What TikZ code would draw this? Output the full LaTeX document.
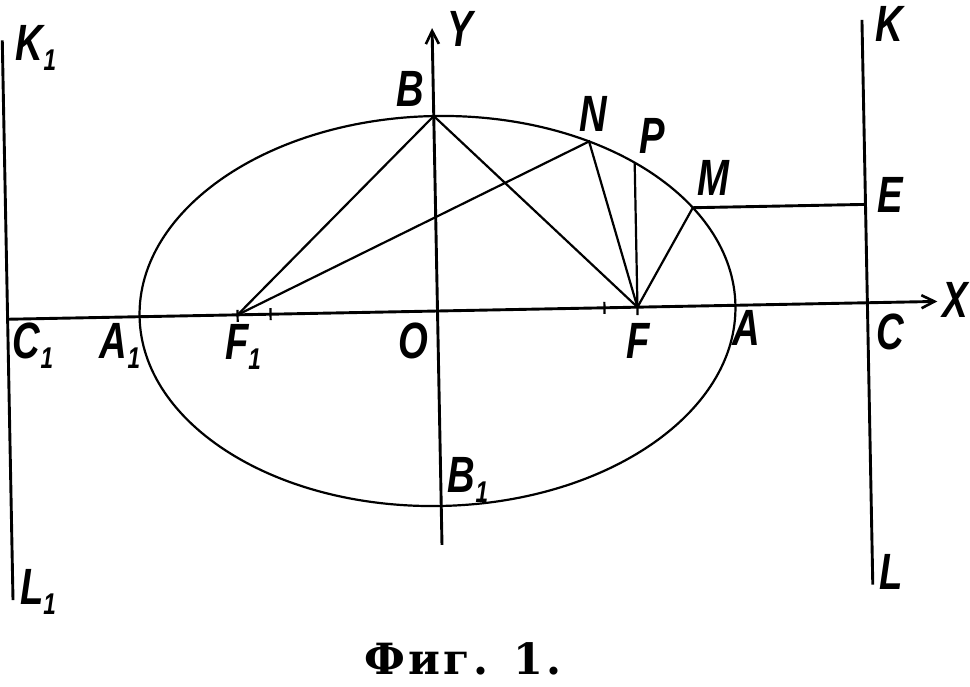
\documentclass[tikz,border=0pt]{standalone}
\usepackage{fontspec}
\usetikzlibrary{arrows.meta}
\newfontfamily\labfont[FakeStretch=0.75]{Liberation Sans}
\newfontfamily\capfont[LetterSpace=8]{DejaVu Serif}
\newcommand\lsub[1]{\raisebox{-0.2em}{\fontsize{30}{30}\selectfont #1}}
\tikzset{
  lab/.style={font={\labfont\bfseries\itshape\fontsize{51}{51}\selectfont}, inner sep=0pt},
  fine/.style={line width=2.2pt},
  axisline/.style={line width=2.9pt},
  tip/.style={-{Straight Barb[length=13pt,width=13pt,line width=2.6pt]}},
}
\begin{document}
\begin{tikzpicture}[x=1pt,y=1pt]
\useasboundingbox (0,0) rectangle (970,-686);
\begin{scope}[shift={(437.5,-311)}, rotate=1.1]
  \coordinate (O) at (0,0);
  \coordinate (A) at (298,0);
  \coordinate (A1) at (-298,0);
  \coordinate (B) at (0,195);
  \coordinate (B1) at (0,-195);
  \coordinate (F) at (200,0);
  \coordinate (F1) at (-200,0);
  \coordinate (N) at ({298*cos(58.7)},{195*sin(58.7)});
  \coordinate (P) at (200,144.6);
  \coordinate (M) at ({298*cos(30.3)},{195*sin(30.3)});
  \coordinate (E) at (430,{195*sin(30.3)});
  \coordinate (C) at (430,0);
  \coordinate (C1) at (-430,0);
  \coordinate (Xend) at (500,0);
  \coordinate (Ytop) at (0,283);
  \coordinate (Ybot) at (0,-234);
  \coordinate (K) at (430,283);
  \coordinate (L) at (430,-282);
  \coordinate (K1) at (-430,279);
  \coordinate (L1) at (-430,-281);
  % ticks
  \coordinate (t1a) at (-167,6); \coordinate (t1b) at (-167,-6);
  \coordinate (t2a) at (167,6);  \coordinate (t2b) at (167,-6);
  \coordinate (t3a) at (-200,5); \coordinate (t3b) at (-200,-7);
  \coordinate (t4a) at (200,2);  \coordinate (t4b) at (200,-8);
  % ellipse
  \draw[fine] (O) ellipse [x radius=298, y radius=195];
  % axes
  \draw[axisline, tip] (C1) -- (Xend);
  \draw[axisline, tip] (Ybot) -- (Ytop);
  % directrices
  \draw[axisline] (K) -- (L);
  \draw[axisline] (K1) -- (L1);
  % construction lines
  \draw[fine] (F1) -- (B) -- (F);
  \draw[fine] (F1) -- (N) -- (F);
  \draw[fine] (P) -- (F);
  \draw[fine] (M) -- (F);
  \draw[axisline] (M) -- (E);
  \draw[fine] (t1a) -- (t1b);
  \draw[fine] (t2a) -- (t2b);
  \draw[fine] (t3a) -- (t3b);
  \draw[fine] (t4a) -- (t4b);
\end{scope}
% labels
\node[lab] (lY) at (460,-29) {Y};
\node[lab] (lB) at (410,-89) {B};
\node[lab] (lN) at (593,-114) {N};
\node[lab] (lP) at (652,-136) {P};
\node[lab] (lM) at (713,-178) {M};
\node[lab] (lE) at (890,-195) {E};
\node[lab] (lK) at (889,-24) {K};
\node[lab] (lK1) at (36,-48) {K\lsub{1}};
\node[lab] (lL1) at (38,-592) {L\lsub{1}};
\node[lab] (lL) at (891,-572) {L};
\node[lab] (lC1) at (33,-346) {C\lsub{1}};
\node[lab] (lA1) at (120,-346) {A\lsub{1}};
\node[lab] (lF1) at (243,-347) {F\lsub{1}};
\node[lab] (lO) at (413,-341) {O};
\node[lab] (lF) at (638,-341) {F};
\node[lab] (lA) at (746,-328) {A};
\node[lab] (lC) at (890,-332) {C};
\node[lab] (lX) at (955,-300) {X};
\node[lab] (lB1) at (468,-480) {B\lsub{1}};
\node[font={\capfont\bfseries\fontsize{43}{43}\selectfont}, anchor=base, inner sep=0pt] (cap) at (463,-674) {Фиг. 1.};
\end{tikzpicture}
\end{document}
